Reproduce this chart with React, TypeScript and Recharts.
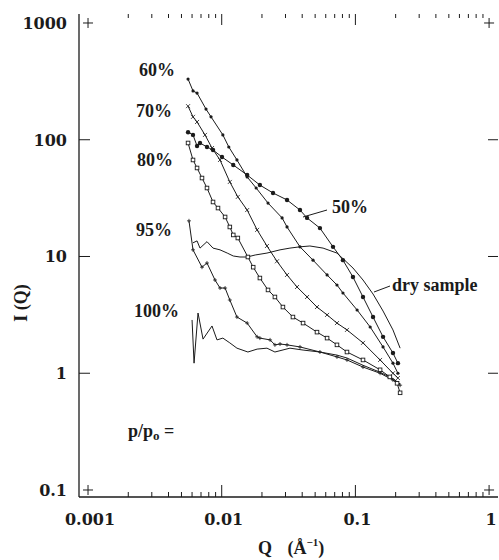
import React from 'react';
import { ComposedChart, Line, XAxis, YAxis, Customized } from 'recharts';

// scattering vector Q (1/Å) and intensity I(Q) for each p/p0
const q50 = [0.0056, 0.0061, 0.00654, 0.00688, 0.00776, 0.00861, 0.01005, 0.0122, 0.0155, 0.0193, 0.0242, 0.0308, 0.0385, 0.0435, 0.0543, 0.068, 0.0807, 0.0959, 0.114, 0.1355, 0.161, 0.191, 0.208];
const i50 = [116, 110, 88.4, 93.8, 86.7, 81.7, 71.1, 60.8, 49.9, 40.9, 35.0, 30.5, 25.0, 21.4, 17.5, 12.1, 9.3, 6.67, 4.5, 3.03, 2.05, 1.49, 1.22];

const q60 = [0.0056, 0.0061, 0.00654, 0.00763, 0.00832, 0.0102, 0.0113, 0.013, 0.0155, 0.0181, 0.0222, 0.0283, 0.0308, 0.0385, 0.0482, 0.0614, 0.0728, 0.0807, 0.103, 0.129, 0.161, 0.191, 0.208];
const i60 = [331, 262, 251, 183, 157, 110, 86.7, 67.1, 48.0, 38.6, 28.7, 21.4, 17.9, 12.1, 9.3, 6.95, 5.7, 4.87, 3.48, 2.49, 1.68, 1.22, 1.0];

const q70 = [0.0056, 0.0061, 0.00654, 0.0075, 0.00846, 0.00971, 0.0115, 0.0132, 0.0155, 0.0184, 0.0218, 0.0259, 0.0308, 0.0366, 0.0435, 0.0516, 0.0614, 0.0728, 0.0865, 0.114, 0.153, 0.191, 0.208];
const i70 = [194, 157, 142, 110, 84.9, 67.1, 43.5, 32.4, 25.0, 16.9, 12.3, 9.1, 6.95, 5.48, 4.5, 3.69, 3.16, 2.69, 2.35, 1.82, 1.3, 1.0, 0.91];

const q80 = [0.0056, 0.0061, 0.00654, 0.00712, 0.00776, 0.00861, 0.00938, 0.0106, 0.0115, 0.0122, 0.0132, 0.0157, 0.0172, 0.0193, 0.0222, 0.025, 0.0287, 0.0341, 0.0406, 0.0516, 0.0614, 0.0728, 0.0865, 0.114, 0.153, 0.181, 0.205, 0.216];
const i80 = [93.8, 67.1, 57.3, 47.0, 38.6, 29.3, 26.0, 21.8, 17.9, 15.3, 14.4, 9.9, 8.1, 6.54, 5.17, 4.5, 3.69, 3.03, 2.69, 2.25, 2.0, 1.75, 1.52, 1.3, 1.07, 0.93, 0.82, 0.68];

const q95 = [0.00569, 0.0061, 0.00712, 0.00776, 0.00891, 0.00971, 0.0106, 0.0115, 0.013, 0.0155, 0.0184, 0.0193, 0.023, 0.025, 0.0273, 0.0308, 0.0385, 0.0543, 0.0728, 0.0865, 0.114, 0.153, 0.191, 0.216];
const i95 = [20.2, 11.4, 8.1, 8.8, 6.29, 5.37, 5.37, 4.24, 3.03, 2.69, 2.05, 2.0, 1.93, 1.75, 1.78, 1.75, 1.68, 1.52, 1.38, 1.3, 1.13, 1.0, 0.875, 0.79];

const q100 = [0.006, 0.00621, 0.00665, 0.00725, 0.00846, 0.00922, 0.0102, 0.0115, 0.013, 0.0157, 0.0184, 0.0218, 0.025, 0.0324, 0.0406, 0.0543, 0.0728, 0.0865, 0.114, 0.153, 0.191, 0.216];
const i100 = [2.86, 1.22, 3.28, 1.96, 2.54, 1.93, 2.0, 1.82, 1.64, 1.52, 1.61, 1.64, 1.52, 1.64, 1.58, 1.52, 1.43, 1.35, 1.17, 1.02, 0.9, 0.81];

const qDry = [0.0061, 0.00654, 0.00688, 0.00776, 0.00861, 0.00971, 0.011, 0.0122, 0.0137, 0.0155, 0.0178, 0.0218, 0.0273, 0.0324, 0.0385, 0.0457, 0.0573, 0.0728, 0.0959, 0.114, 0.1355, 0.161, 0.191, 0.216];
const iDry = [13.1, 13.6, 11.8, 13.4, 11.8, 11.4, 10.7, 10.1, 9.9, 9.9, 10.3, 10.7, 11.4, 11.8, 12.1, 12.3, 11.8, 10.7, 7.97, 6.29, 4.77, 3.41, 2.35, 1.64];

const xMajor = [0.001, 0.01, 0.1, 1];
const xLabels = ['0.001', '0.01', '0.1', '1'];
const yMajor = [0.1, 1, 10, 100, 1000];
const yLabels = ['0.1', '1', '10', '100', '1000'];

const xDomain = [0.000856, 1.166];
const yDomain = [0.0871, 1194];

// layout
const W = 499;
const H = 560;
const margin = { top: 14, right: 1, left: 0, bottom: 0 };
const yAxisW = 79;
const xAxisH = 63;
const plotW = W - margin.left - margin.right - yAxisW;
const plotH = H - margin.top - margin.bottom - xAxisH;

const ink = '#1b1b1b';
const numFont = { fontFamily: '"DejaVu Serif", serif', fontWeight: 700, fontSize: 16, fill: ink };
const noteFont = { fontFamily: '"Liberation Serif", "Times New Roman", serif', fontWeight: 700, fontSize: 18, fill: ink };

const zip = (q: number[], v: number[]) => q.map((x, k) => ({ q: x, I: v[k] }));

// minor ticks 2..9 in every decade
const xTicks: number[] = [];
xMajor.forEach((d, k) => {
  xTicks.push(d);
  if (k < xMajor.length - 1) for (let m = 2; m <= 9; m++) xTicks.push(Number((m * d).toPrecision(3)));
});

const majorIndex = (list: number[], v: number) => list.findIndex((m) => Math.abs(m - v) / m < 1e-6);

// bottom axis tick, also draws the matching tick hanging from the top frame
const BottomTick = (p: any) => {
  const k = majorIndex(xMajor, p.payload.value);
  const edge = k === 0 || k === xMajor.length - 1;
  const top = p.y - plotH;
  return (
    <g>
      {!edge && <line x1={p.x} y1={p.y} x2={p.x} y2={p.y - (k >= 0 ? 12 : 5)} stroke={ink} />}
      {!edge && <line x1={p.x} y1={top} x2={p.x} y2={top + (k >= 0 ? 11 : 4)} stroke={ink} />}
      {k >= 0 && (
        <text x={p.x + 2} y={p.y + 28} textAnchor="middle" style={numFont}>
          {xLabels[k]}
        </text>
      )}
    </g>
  );
};

// left axis tick, also draws the matching tick on the right frame
const LeftTick = (p: any) => {
  const k = majorIndex(yMajor, p.payload.value);
  const edge = k === 0 || k === yMajor.length - 1;
  const right = p.x + plotW;
  return (
    <g>
      {!edge && <line x1={p.x} y1={p.y} x2={p.x + 11} y2={p.y} stroke={ink} />}
      {!edge && <line x1={right} y1={p.y} x2={right - 10} y2={p.y} stroke={ink} />}
      <text x={p.x - 12} y={p.y + 6} textAnchor="end" style={numFont}>
        {yLabels[k]}
      </text>
    </g>
  );
};

const makeDot = (kind: string) => (p: any) => {
  const { cx, cy, index } = p;
  if (cx == null || cy == null) return <g key={index} />;
  if (kind === 'disc') return <circle key={index} cx={cx} cy={cy} r={1.6} fill={ink} />;
  if (kind === 'bigdisc') return <circle key={index} cx={cx} cy={cy} r={2.2} fill={ink} />;
  if (kind === 'square')
    return <rect key={index} x={cx - 1.8} y={cy - 1.8} width={3.6} height={3.6} fill="#fff" stroke={ink} strokeWidth={0.9} />;
  if (kind === 'x')
    return <path key={index} d={`M${cx - 2},${cy - 2}L${cx + 2},${cy + 2}M${cx - 2},${cy + 2}L${cx + 2},${cy - 2}`} stroke={ink} strokeWidth={0.8} />;
  if (kind === 'plus')
    return <path key={index} d={`M${cx - 2},${cy}L${cx + 2},${cy}M${cx},${cy - 2}L${cx},${cy + 2}`} stroke={ink} strokeWidth={0.8} />;
  if (kind === 'corner')
    return <path key={index} d={`M${cx - 5},${cy}L${cx + 5},${cy}M${cx},${cy - 5}L${cx},${cy + 5}`} stroke={ink} strokeWidth={1} />;
  return <g key={index} />;
};

const series = [
  { name: '60%', data: zip(q60, i60), dot: 'disc' },
  { name: '70%', data: zip(q70, i70), dot: 'x' },
  { name: '50%', data: zip(q50, i50), dot: 'bigdisc' },
  { name: '80%', data: zip(q80, i80), dot: 'square' },
  { name: '95%', data: zip(q95, i95), dot: 'plus' },
  { name: '100%', data: zip(q100, i100), dot: 'none' },
  { name: 'dry sample', data: zip(qDry, iDry), dot: 'none' },
];

const corners = [
  { q: xMajor[0], I: yMajor[yMajor.length - 1] },
  { q: xMajor[xMajor.length - 1], I: yMajor[yMajor.length - 1] },
  { q: xMajor[0], I: yMajor[0] },
  { q: xMajor[xMajor.length - 1], I: yMajor[0] },
];

const Notes = () => (
  <g>
    <text x={139} y={76} style={noteFont}>60%</text>
    <text x={136} y={117} style={noteFont}>70%</text>
    <text x={137} y={166} style={noteFont}>80%</text>
    <text x={136} y={236} style={noteFont}>95%</text>
    <text x={134} y={317} style={noteFont}>100%</text>
    <text x={332} y={213} style={noteFont}>50%</text>
    <line x1={303} y1={217} x2={327} y2={210} stroke={ink} />
    <text x={392} y={291} style={noteFont}>dry sample</text>
    <line x1={374} y1={292} x2={390} y2={286} stroke={ink} />
    <text x={128} y={437} style={noteFont}>
      p/p<tspan fontSize={13} dy={3}>o</tspan>
      <tspan dy={-3}> =</tspan>
    </text>
    <text x={258} y={554} style={noteFont}>
      Q<tspan dx={11}> (Å</tspan>
      <tspan fontSize={11} dy={-8}>−1</tspan>
      <tspan dy={8}>)</tspan>
    </text>
    <text x={27} y={303} textAnchor="middle" transform="rotate(-90 27 303)" style={noteFont}>
      I (Q)
    </text>
  </g>
);

export default function App() {
  const axisLine = { stroke: ink, strokeWidth: 1.3 };
  return (
    <div style={{ position: 'absolute', left: 0, top: 0, background: '#fff' }}>
      <ComposedChart width={W} height={H} margin={margin}>
        <XAxis
          dataKey="q"
          type="number"
          scale="log"
          domain={xDomain}
          allowDataOverflow
          ticks={xTicks}
          interval={0}
          tick={BottomTick}
          tickLine={false}
          tickSize={0}
          tickMargin={0}
          height={xAxisH}
          axisLine={axisLine}
        />
        <XAxis
          xAxisId="top"
          orientation="top"
          dataKey="q"
          type="number"
          scale="log"
          domain={xDomain}
          allowDataOverflow
          tick={false}
          tickLine={false}
          height={0}
          axisLine={axisLine}
        />
        <YAxis
          dataKey="I"
          type="number"
          scale="log"
          domain={yDomain}
          allowDataOverflow
          ticks={yMajor}
          interval={0}
          tick={LeftTick}
          tickLine={false}
          tickSize={0}
          tickMargin={0}
          width={yAxisW}
          axisLine={axisLine}
        />
        <YAxis
          yAxisId="right"
          orientation="right"
          dataKey="I"
          type="number"
          scale="log"
          domain={yDomain}
          allowDataOverflow
          tick={false}
          tickLine={false}
          width={0}
          axisLine={axisLine}
        />
        {series.map((s) => (
          <Line
            key={s.name}
            name={s.name}
            data={s.data}
            dataKey="I"
            type="linear"
            stroke={ink}
            strokeWidth={1}
            dot={makeDot(s.dot)}
            activeDot={false}
            isAnimationActive={false}
          />
        ))}
        <Line
          name="corners"
          xAxisId="top"
          yAxisId="right"
          data={corners}
          dataKey="I"
          stroke="none"
          dot={makeDot('corner')}
          activeDot={false}
          isAnimationActive={false}
        />
        <Customized component={Notes} />
      </ComposedChart>
    </div>
  );
}
